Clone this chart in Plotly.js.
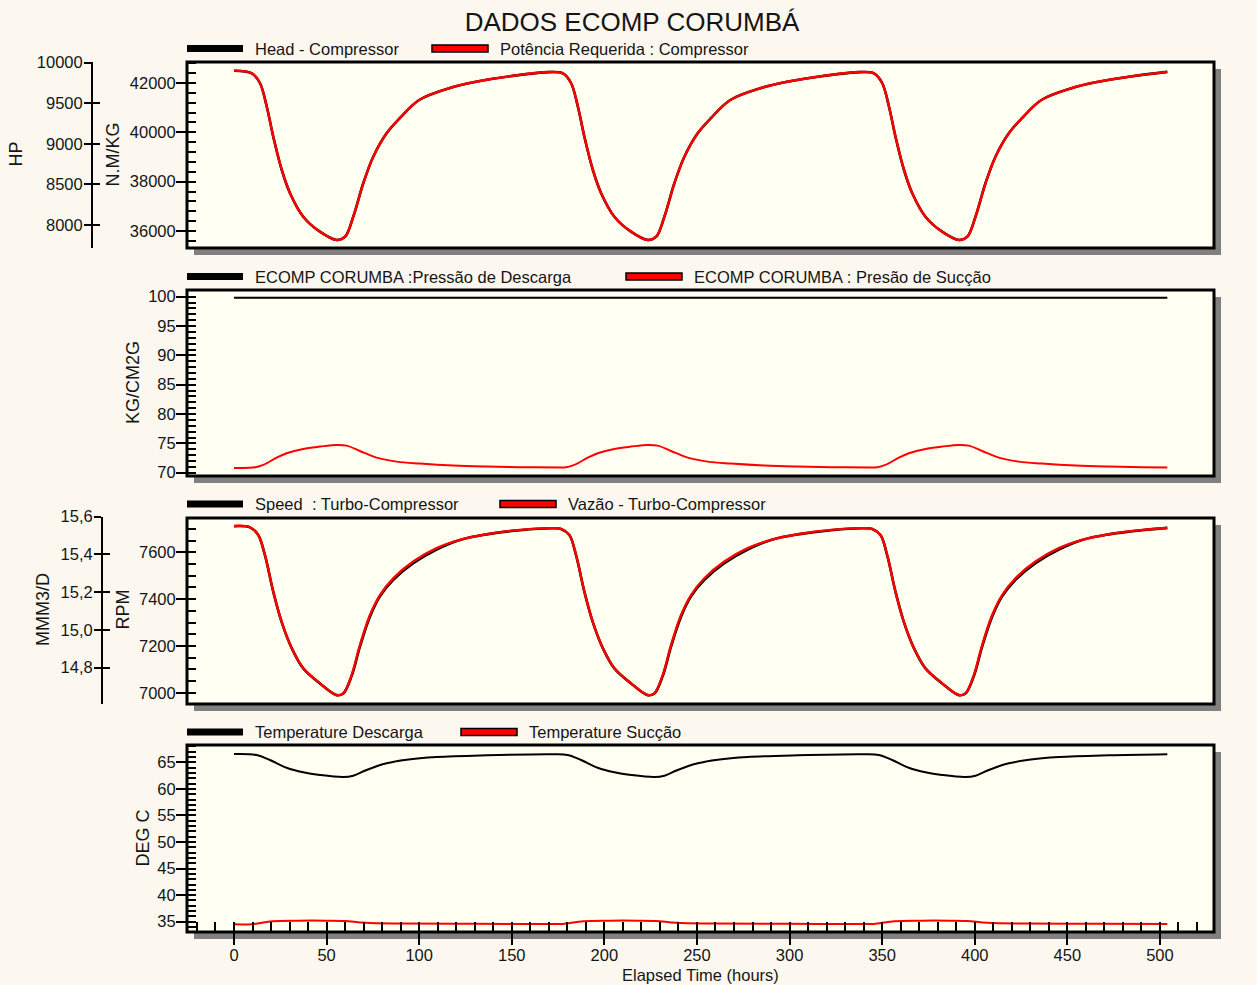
<!DOCTYPE html>
<html>
<head>
<meta charset="utf-8">
<script src="https://cdn.plot.ly/plotly-3.0.1.min.js"></script>
<style>html,body{margin:0;padding:0;background:#FCF8EF;}#chart{width:1257px;height:985px;}</style>
</head>
<body>
<div id="chart"></div>
<script>
// ---------------- DATA ----------------
// Panel 1: Head (N.M/KG) and Potência Requerida (HP)
const t1 = [0,9.6,14,17.7,21.2,25.8,30.2,37.4,46.4,55.5,60,64.4,69.8,75.2,82.4,89.6,100,116.6,130,150,170,
  177.6,182,185.7,189.2,193.8,198.2,205.4,214.4,223.5,228,232.4,237.8,243.2,250.4,257.6,268,284.6,298,318,338,
  345.6,350,353.7,357.2,361.8,366.2,373.4,382.4,391.5,396,400.4,405.8,411.2,418.4,425.6,436,452.6,466,486,504];
const headCompressor = [42499,42393,42000,41039,39823,38473,37541,36580,35972,35636,35770,36580,37934,39012,39961,40581,41311,41797,42040,42284,42440,
  42390,42000,41039,39823,38473,37541,36580,35972,35636,35770,36580,37934,39012,39961,40581,41311,41797,42040,42284,42440,
  42390,42000,41039,39823,38473,37541,36580,35972,35636,35770,36580,37934,39012,39961,40581,41311,41797,42040,42284,42450];
const potenciaRequerida = [9902,9869,9750,9458,9089,8679,8395,8103,7919,7817,7857,8103,8515,8842,9131,9319,9541,9688,9762,9836,9884,
  9868,9750,9458,9089,8679,8395,8103,7919,7817,7857,8103,8515,8842,9131,9319,9541,9688,9762,9836,9884,
  9868,9750,9458,9089,8679,8395,8103,7919,7817,7857,8103,8515,8842,9131,9319,9541,9688,9762,9836,9887];

// Panel 2: pressures (KG/CM2G)
const tDesc = [0,504];
const pressaoDescarga = [99.8,99.8];
const t2 = [0,10.4,15.8,23,28.4,37.4,46.4,55.4,60.8,68,77,87.8,100.4,118.4,136.4,154.4,176,
  178.4,183.8,191,196.4,205.4,214.4,223.4,228.8,236,245,255.8,268.4,286.4,304.4,322.4,344,
  346.4,351.8,359,364.4,373.4,382.4,391.4,396.8,404,413,423.8,436.4,454.4,472.4,490.4,504];
const pressaoSuccao = [70.82,70.87,71.33,72.57,73.32,74.05,74.45,74.74,74.62,73.71,72.57,71.89,71.55,71.21,71.04,70.94,70.90,
  70.88,71.33,72.57,73.32,74.05,74.45,74.74,74.62,73.71,72.57,71.89,71.55,71.21,71.04,70.94,70.90,
  70.88,71.33,72.57,73.32,74.05,74.45,74.74,74.62,73.71,72.57,71.89,71.55,71.21,71.04,70.94,70.90];

// Panel 3: Speed (RPM) and Vazão (MMM3/D)
const t3 = [0,8.6,13.1,16.7,21.2,25.7,31.2,37.4,46.4,55.4,59,63.5,68,73.4,78.8,86,96.8,109.4,122,136.4,154.4,172.4,
  176.6,181.1,184.7,189.2,193.7,199.2,205.4,214.4,223.4,227,231.5,236,241.4,246.8,254,264.8,277.4,290,304.4,322.4,340.4,
  344.6,349.1,352.7,357.2,361.7,367.2,373.4,382.4,391.4,395,399.5,404,409.4,414.8,422,432.8,445.4,458,472.4,490.4,504];
const speedRPM = [7712,7707,7674,7588,7432,7303,7190,7104,7040,6990,6997,7071,7197,7325,7412,7483,7554,7612,7653,7677,7695,7703,
  7700,7674,7588,7432,7303,7190,7104,7040,6990,6997,7071,7197,7325,7412,7483,7554,7612,7653,7677,7695,7703,
  7700,7674,7588,7432,7303,7190,7104,7040,6990,6997,7071,7197,7325,7412,7483,7554,7612,7653,7677,7695,7705];
const vazao = [15.551,15.544,15.503,15.397,15.203,15.044,14.903,14.797,14.717,14.655,14.664,14.761,14.920,15.079,15.185,15.274,15.362,15.433,15.477,15.507,15.530,15.539,
  15.535,15.503,15.397,15.203,15.044,14.903,14.797,14.717,14.655,14.664,14.761,14.920,15.079,15.185,15.274,15.362,15.433,15.477,15.507,15.530,15.539,
  15.535,15.503,15.397,15.203,15.044,14.903,14.797,14.717,14.655,14.664,14.761,14.920,15.079,15.185,15.274,15.362,15.433,15.477,15.507,15.530,15.540];

// Panel 4: temperatures (DEG C)
const t4a = [0,12.2,19.4,28.4,37.4,46.4,59,64.4,71.6,82.4,93.2,109.4,136.4,172.4,
  180.2,187.4,196.4,205.4,214.4,227,232.4,239.6,250.4,261.2,277.4,304.4,340.4,
  348.2,355.4,364.4,373.4,382.4,395,400.4,407.6,418.4,429.2,445.4,472.4,504];
const tempDescarga = [66.56,66.37,65.43,63.98,63.12,62.61,62.23,62.48,63.55,64.81,65.49,66.0,66.32,66.51,
  66.37,65.43,63.98,63.12,62.61,62.23,62.48,63.55,64.81,65.49,66.0,66.32,66.51,
  66.37,65.43,63.98,63.12,62.61,62.23,62.48,63.55,64.81,65.49,66.0,66.32,66.51];
const t4b = [0,9.7,20.8,35,50,59.7,70.8,90,130,175,
  177.7,188.8,203,218,227.7,238.8,258,298,343,
  345.7,356.8,371,386,395.7,406.8,426,466,504];
const tempSuccao = [34.5,34.52,35.1,35.2,35.2,35.15,34.8,34.65,34.6,34.58,
  34.58,35.1,35.2,35.2,35.15,34.8,34.65,34.6,34.58,
  34.58,35.1,35.2,35.2,35.15,34.8,34.65,34.6,34.58];

const xTicksMajor = 50, xTicksMinor = 10;

// ---------------- LAYOUT ----------------
const W = 1257, H = 985;
const px = x => x / W;
const py = y => 1 - y / H;
const L = 187, R = 1214;
const panels = [{top:62,bot:248},{top:290,bot:476},{top:518,bot:704},{top:745,bot:932}];
const dom = p => [py(p.bot), py(p.top)];
const xDom = [px(L), px(R)];
const xRange = [-25.38, 529.2];

const FONT = 'Liberation Sans, Arial, sans-serif';
const TXT = '#151515';
const tickFont = {family: FONT, size: 16.5, color: TXT};
const legFont = {family: FONT, size: 16.5, color: TXT};

function mainY(domain, range, dtick, extra) {
  return Object.assign({domain, range, dtick, tick0: 0, ticks: 'outside', ticklen: 10, tickwidth: 2, tickcolor: '#000',
    ticklabelstandoff: -3,
    showline: false, showgrid: false, zeroline: false, tickfont: tickFont, exponentformat: 'none', fixedrange: true, anchor: 'x'}, extra || {});
}
function innerY(overlay, range, dtick, extra) {
  return Object.assign({overlaying: overlay, range, dtick, tick0: 0, ticks: 'inside', ticklen: 9, tickwidth: 2, tickcolor: '#000',
    showticklabels: false, showline: false, showgrid: false, zeroline: false, fixedrange: true, anchor: 'x'}, extra || {});
}

const r1 = [35311, 42851], rHP = [7718, 10008];
const r2 = [69.44, 101.14];
const r3 = [6952, 7747], rM = [14.6077, 15.601];
const r4 = [33.06, 68.26];
const mDomain = [py(704), py(516.5)];

const layout = {
  width: W, height: H,
  margin: {l: 0, r: 0, t: 0, b: 0},
  paper_bgcolor: '#FCF8EF',
  plot_bgcolor: 'rgba(0,0,0,0)',
  showlegend: false,
  separators: ',',
  font: {family: FONT, color: TXT},
  title: {text: 'DADOS ECOMP CORUMBÁ', x: px(632), xanchor: 'center', xref: 'paper', y: py(22), yanchor: 'middle', yref: 'paper',
          font: {family: FONT, size: 26, color: TXT}},
  xaxis: {domain: xDom, range: xRange, anchor: 'y11', dtick: xTicksMajor, tick0: 0, ticks: 'outside', ticklen: 12, tickwidth: 2,
          ticklabelstandoff: -4,
          tickcolor: '#000', showline: false, showgrid: false, zeroline: false, tickfont: tickFont, fixedrange: true},
  xaxis2: {domain: xDom, range: xRange, overlaying: 'x', anchor: 'y11', dtick: xTicksMinor, tick0: 0, ticks: 'inside', ticklen: 10,
           tickwidth: 2, tickcolor: '#000', showticklabels: false, showline: false, showgrid: false, zeroline: false, fixedrange: true},
  // panel 1
  yaxis: mainY(dom(panels[0]), r1, 2000),
  yaxis2: innerY('y', r1, 400),
  yaxis3: {overlaying: 'y', anchor: 'free', position: px(92), side: 'left', range: rHP, dtick: 500, tick0: 0, ticks: 'outside', ticklen: 7,
           tickwidth: 2, tickcolor: '#000', showline: true, linewidth: 2, linecolor: '#000', showgrid: false, zeroline: false,
           ticklabelstandoff: -2,
           tickfont: tickFont, exponentformat: 'none', fixedrange: true},
  yaxis4: {overlaying: 'y', anchor: 'free', position: px(92), side: 'left', range: rHP, dtick: 500, tick0: 0, ticks: 'inside', ticklen: 7,
           tickwidth: 2, tickcolor: '#000', showticklabels: false, showline: false, showgrid: false, zeroline: false, fixedrange: true},
  // panel 2
  yaxis5: mainY(dom(panels[1]), r2, 5),
  yaxis6: innerY('y5', r2, 1),
  // panel 3
  yaxis7: mainY(dom(panels[2]), r3, 200),
  yaxis8: innerY('y7', r3, 50),
  yaxis9: {domain: mDomain, anchor: 'free', position: px(102), side: 'left', range: rM, dtick: 0.2, tick0: 0, tickformat: '.1f', ticks: 'outside', ticklen: 7,
           tickwidth: 2, tickcolor: '#000', showline: true, linewidth: 2, linecolor: '#000', showgrid: false, zeroline: false,
           ticklabelstandoff: -2,
           tickfont: tickFont, fixedrange: true},
  yaxis10: {overlaying: 'y9', anchor: 'free', position: px(102), side: 'left', range: rM, dtick: 0.2, tick0: 0, ticks: 'inside', ticklen: 7,
           tickwidth: 2, tickcolor: '#000', showticklabels: false, showline: false, showgrid: false, zeroline: false, fixedrange: true},
  // panel 4
  yaxis11: mainY(dom(panels[3]), r4, 5),
  yaxis12: innerY('y11', r4, 1),
  shapes: [],
  annotations: []
};

// panel boxes: shadow, background, border
panels.forEach(p => {
  layout.shapes.push({type: 'rect', xref: 'paper', yref: 'paper', layer: 'below', x0: px(L + 7), x1: px(R + 7), y0: py(p.top + 7), y1: py(p.bot + 7),
                      fillcolor: '#808080', line: {width: 0}});
  layout.shapes.push({type: 'rect', xref: 'paper', yref: 'paper', layer: 'below', x0: px(L), x1: px(R), y0: py(p.top), y1: py(p.bot),
                      fillcolor: '#FFFFF2', line: {width: 0}});
  layout.shapes.push({type: 'rect', xref: 'paper', yref: 'paper', layer: 'above', x0: px(L), x1: px(R), y0: py(p.top), y1: py(p.bot),
                      fillcolor: 'rgba(0,0,0,0)', line: {color: '#000', width: 3}});
});

// legends (drawn as shapes + text)
const legends = [
  {y: 48.5, a: 'Head - Compressor', redX: 432, b: 'Potência Requerida : Compressor'},
  {y: 276.5, a: 'ECOMP CORUMBA :Pressão de Descarga', redX: 626, b: 'ECOMP CORUMBA : Presão de Sucção'},
  {y: 504, a: 'Speed\u00A0 : Turbo-Compressor', redX: 500, b: 'Vazão - Turbo-Compressor'},
  {y: 732, a: 'Temperature Descarga', redX: 461, b: 'Temperature Sucção'}
];
legends.forEach(lg => {
  layout.shapes.push({type: 'rect', xref: 'paper', yref: 'paper', x0: px(187), x1: px(243), y0: py(lg.y - 3.5), y1: py(lg.y + 3.5),
                      fillcolor: '#000', line: {width: 0}});
  layout.shapes.push({type: 'rect', xref: 'paper', yref: 'paper', x0: px(lg.redX), x1: px(lg.redX + 56), y0: py(lg.y - 3.5), y1: py(lg.y + 3.5),
                      fillcolor: '#FF0000', line: {color: '#000', width: 1.5}});
  layout.annotations.push({xref: 'paper', yref: 'paper', x: px(253), y: py(lg.y), xanchor: 'left', yanchor: 'middle', showarrow: false,
                           text: lg.a, font: legFont});
  layout.annotations.push({xref: 'paper', yref: 'paper', x: px(lg.redX + 66), y: py(lg.y), xanchor: 'left', yanchor: 'middle', showarrow: false,
                           text: lg.b, font: legFont});
});

// axis titles
const axisTitles = [
  {text: 'HP', x: 15.5, y: 154},
  {text: 'N.M/KG', x: 112.5, y: 155},
  {text: 'KG/CM2G', x: 133, y: 383},
  {text: 'MMM3/D', x: 43, y: 610},
  {text: 'RPM', x: 122.5, y: 610},
  {text: 'DEG C', x: 142.5, y: 838}
];
axisTitles.forEach(a => {
  layout.annotations.push({xref: 'paper', yref: 'paper', x: px(a.x), y: py(a.y), xanchor: 'center', yanchor: 'middle', showarrow: false,
                           textangle: -90, text: a.text, font: {family: FONT, size: 18, color: TXT}});
});
layout.annotations.push({xref: 'paper', yref: 'paper', x: px(700), y: py(975), xanchor: 'center', yanchor: 'middle', showarrow: false,
                         text: 'Elapsed Time (hours)', font: legFont});

// ---------------- TRACES ----------------
const ln = (color, width) => ({color, width, shape: 'spline', smoothing: 1});
const traces = [
  {x: t1, y: headCompressor, xaxis: 'x', yaxis: 'y', mode: 'lines', name: 'Head - Compressor', line: ln('#000', 2.6)},
  {x: t1, y: potenciaRequerida, xaxis: 'x', yaxis: 'y3', mode: 'lines', name: 'Potência Requerida : Compressor', line: ln('#FF0000', 2.4)},
  {x: tDesc, y: pressaoDescarga, xaxis: 'x', yaxis: 'y5', mode: 'lines', name: 'ECOMP CORUMBA :Pressão de Descarga', line: {color: '#000', width: 2}},
  {x: t2, y: pressaoSuccao, xaxis: 'x', yaxis: 'y5', mode: 'lines', name: 'ECOMP CORUMBA : Presão de Sucção', line: ln('#FF0000', 2)},
  {x: t3, y: speedRPM, xaxis: 'x', yaxis: 'y7', mode: 'lines', name: 'Speed : Turbo-Compressor', line: ln('#000', 2.6)},
  {x: t3, y: vazao, xaxis: 'x', yaxis: 'y9', mode: 'lines', name: 'Vazão - Turbo-Compressor', line: ln('#FF0000', 2.4)},
  {x: t4a, y: tempDescarga, xaxis: 'x', yaxis: 'y11', mode: 'lines', name: 'Temperature Descarga', line: ln('#000', 2)},
  {x: t4b, y: tempSuccao, xaxis: 'x', yaxis: 'y11', mode: 'lines', name: 'Temperature Sucção', line: ln('#FF0000', 2)}
];
// empty helper traces so that the tick-only overlay axes are drawn
[['x','y2'],['x','y4'],['x','y6'],['x','y8'],['x','y10'],['x','y12'],['x2','y11']].forEach(([xa, ya]) => {
  traces.push({x: [null], y: [null], xaxis: xa, yaxis: ya, mode: 'lines', hoverinfo: 'skip', showlegend: false});
});

Plotly.newPlot('chart', traces, layout, {staticPlot: true, displayModeBar: false});
</script>
</body>
</html>
